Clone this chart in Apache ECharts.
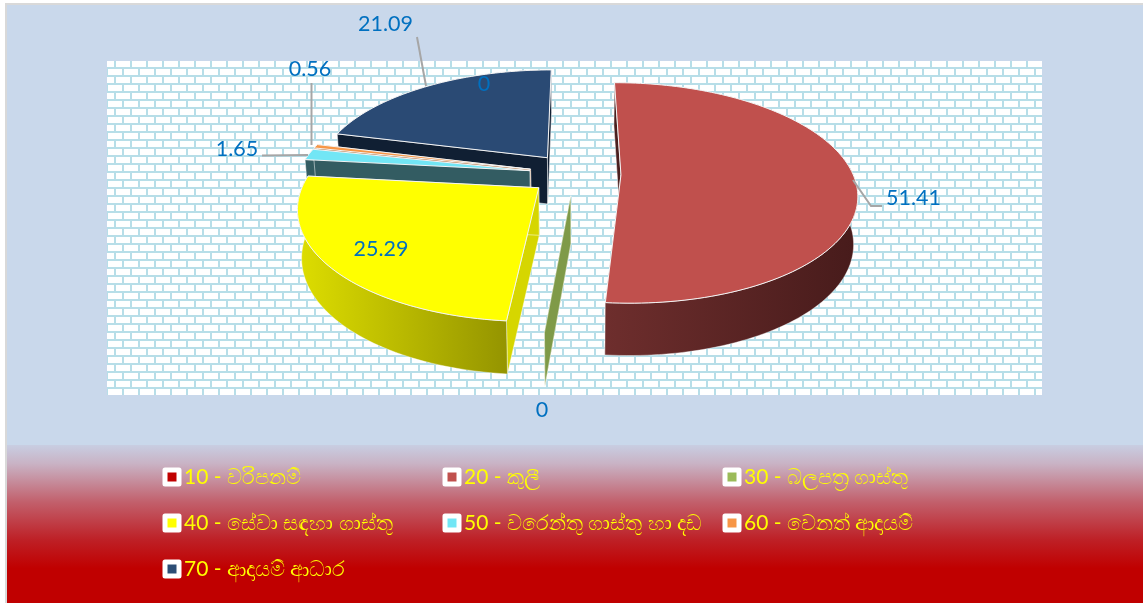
<!DOCTYPE html>
<html>
<head>
<meta charset="utf-8">
<style>html,body{margin:0;padding:0;background:#fff}#c{width:1143px;height:603px}</style>
<script src="https://cdn.jsdelivr.net/npm/echarts@6/dist/echarts.min.js"></script>
</head>
<body>
<div id="c"></div>
<script>
const categories = ['10 - වරිපනම්','20 - කුලී','30 - බලපත්‍ර ගාස්තු','40 - සේවා සඳහා ගාස්තු','50 - වරෙන්තු ගාස්තු හා දඩ','60 - වෙනත් ආදායම්','70 - ආදායම් ආධාර'];
const values = [0, 51.41, 0, 25.29, 1.65, 0.56, 21.09];
const legendColors = ['#C00000','#C0504D','#9BBB59','#FFFF00','#72E6F5','#F79646','#2C4D75'];

// look of each slice: [top face, side face, left wall, right wall]; 'none' = not painted
const sliceLook = [
  ['none','none','none','none'],
  ['#C0504D','#4A1F1E','#6E2E2D','#471B1B'],
  ['#7F9A48','#7F9A48','#7F9A48','#7F9A48'],
  ['#FFFF00','#D6D600','#DEDE00','#949400'],
  ['#72E6F5','#335C62','#335C62','#335C62'],
  ['#F79646','#A9632B','#A9632B','#A9632B'],
  ['#2A4A74','#101F33','#101F33','#101F33']
];
// view of the pie
const view = {cx:575, cy:174, R:232, Rk:107, persp:0.163, explode:0.198, depth:47, baseScale:0.985};
// label placement: label centre and leader polyline
const labelPlaces = [
  {x:484,y:84,line:null},
  {x:913.5,y:198,line:[[853,180],[871,206],[882,206]]},
  {x:542,y:410,line:null},
  {x:381,y:249,line:null},
  {x:237,y:149,line:[[262,155.5],[308,155]]},
  {x:310,y:69,line:[[311.5,83],[311.5,145]]},
  {x:385.5,y:24,line:[[417,37],[426,86]]}
];

const total = values.reduce((a,b)=>a+b,0);
const starts = []; values.reduce((a,v,i)=>{starts[i]=a; return a+v;},0);
const wallFrom = 85*Math.PI/180, wallTo = 275*Math.PI/180;

function proj(X,Z,base){
  const s = 1/(1-view.persp*Z);
  if(!base) return [view.cx+view.R*X*s, view.cy+view.Rk*Z*s];
  return [view.cx+view.R*X*s*view.baseScale, view.cy+view.Rk*Z*s+view.depth*Math.pow(s,0.6)];
}
function renderSlice(i){
  return function(params, api){
    const v = api.value(0);
    const a0 = starts[i]/total*2*Math.PI, a1 = (starts[i]+v)/total*2*Math.PI, mid=(a0+a1)/2;
    const ex = view.explode*Math.sin(mid), ez = -view.explode*Math.cos(mid);
    const pt = (a,r,b)=>proj(ex+r*Math.sin(a), ez-r*Math.cos(a), b);
    const n = Math.max(1,Math.ceil((a1-a0)/(Math.PI/120)));
    const topRim=[], wallTop=[], wallBase=[];
    for(let k=0;k<=n;k++){
      const a=a0+(a1-a0)*k/n;
      topRim.push(pt(a,1,false));
      if(a>=wallFrom && a<=wallTo){wallTop.push(pt(a,1,false)); wallBase.push(pt(a,1,true));}
    }
    const apexT=pt(a0,0,false), apexB=pt(a0,0,true);
    const [topC,sideC,wallL,wallR]=sliceLook[i];
    const kids=[];
    const poly=(points,fill,stroke,w)=>({type:'polygon',shape:{points},style:{fill,stroke:stroke||fill,lineWidth:w==null?0.5:w,lineJoin:'round'},silent:true});
    if(topC!=='none'){
      const grad = wallL===wallR?wallL:{type:'linear',x:0,y:0,x2:1,y2:0,colorStops:[{offset:0,color:wallL},{offset:1,color:wallR}]};
      kids.push(poly([apexT,topRim[0],pt(a0,1,true),apexB],sideC,'#ffffff',0.5));
      kids.push(poly([apexT,topRim[n],pt(a1,1,true),apexB],sideC,'#ffffff',0.5));
      if(v>0){
        if(wallTop.length>1) kids.push(poly(wallTop.concat(wallBase.slice().reverse()),grad,'#ffffff',0.4));
        kids.push(poly([apexT].concat(topRim),topC,'#F4F4F4',1));
      }
    }
    const lp=labelPlaces[i];
    if(lp.line) kids.push({type:'polyline',shape:{points:lp.line},style:{fill:'none',stroke:'#A6A6A6',lineWidth:2},silent:true});
    kids.push({type:'text',style:{x:lp.x,y:lp.y,text:String(v),fill:'#0070C0',font:'21.5px Lato, "Open Sans", sans-serif',align:'center',verticalAlign:'middle'},silent:true,z2:50});
    return {type:'group',children:kids};
  };
}

// brick wall tile
const tile=document.createElement('canvas'); tile.width=16; tile.height=16;
(function(){
  const g=tile.getContext('2d'); g.fillStyle='#fff'; g.fillRect(0,0,16,16);
  g.fillStyle='#B7DEE8';
  g.fillRect(0,3,16,2); g.fillRect(0,11,16,2);
  g.fillRect(10,5,2,6);
  g.fillRect(2,13,2,3); g.fillRect(2,0,2,3);
})();

// painted back to front; the unpainted first slice goes last so its label sits above the navy slice
const order=[6,5,4,3,2,1,0];
const legendStyle={orient:'vertical',padding:0,itemWidth:14,itemHeight:14,icon:'rect',itemGap:25,
  itemStyle:{borderColor:'#fff',borderWidth:5,borderJoin:'round'},
  textStyle:{color:'#FFFF00',fontSize:21,fontFamily:'Lato, "Noto Sans", sans-serif'},selectedMode:false,z:10};

const option={
  animation:false,
  backgroundColor:'#fff',
  graphic:[
    {type:'rect',shape:{x:6,y:4,width:1140,height:602},style:{fill:'#C9D8EB',stroke:'#D9D9D9',lineWidth:2},silent:true,z:0},
    {type:'rect',shape:{x:107,y:61,width:935,height:334},style:{fill:{image:tile,repeat:'repeat'}},silent:true,z:1},
    {type:'rect',shape:{x:7,y:445,width:1136,height:158},style:{fill:{type:'linear',x:0,y:0,x2:0,y2:1,colorStops:[
      {offset:0,color:'#C8CEE2'},{offset:0.12,color:'#C9B2C4'},{offset:0.36,color:'#C2606C'},{offset:0.6,color:'#BE2026'},{offset:0.78,color:'#C00000'},{offset:1,color:'#C00000'}]}},silent:true,z:1}
  ],
  legend:[
    Object.assign({left:162.5,top:466.5,data:[categories[0],categories[3],categories[6]]},legendStyle),
    Object.assign({left:442.5,top:466.5,data:[categories[1],categories[4]]},legendStyle),
    Object.assign({left:722.5,top:466.5,data:[categories[2],categories[5]]},legendStyle)
  ],
  series:order.map((i,o)=>({
    type:'custom',name:categories[i],coordinateSystem:'none',z:2+o,silent:true,
    itemStyle:{color:legendColors[i]},
    renderItem:renderSlice(i),
    data:[{name:categories[i],value:[values[i]]}]
  }))
};
const chart=echarts.init(document.getElementById('c'),null,{renderer:'canvas'});
chart.setOption(option);
</script>
</body>
</html>
